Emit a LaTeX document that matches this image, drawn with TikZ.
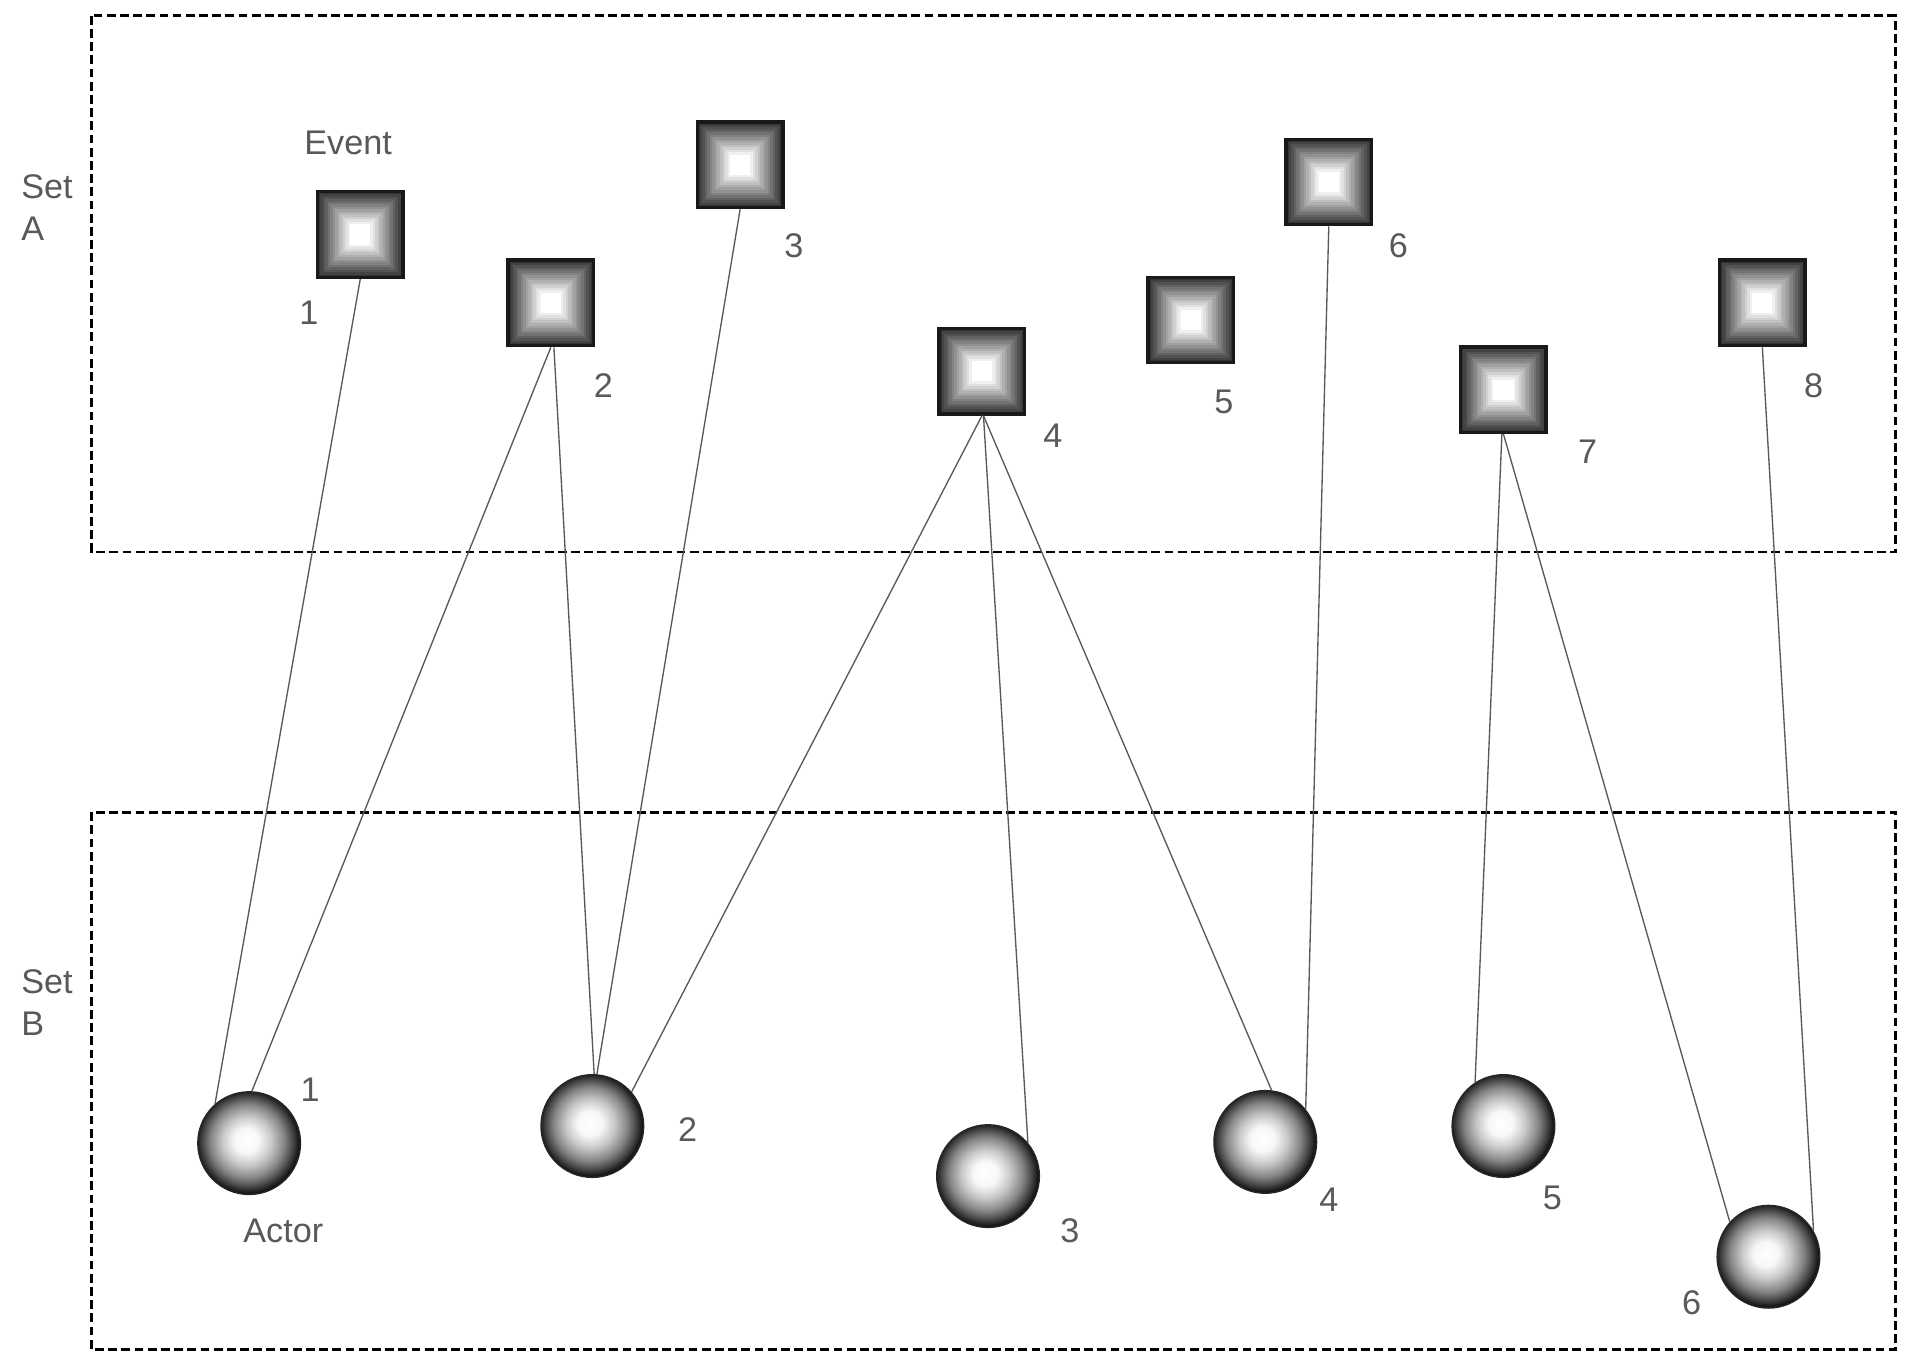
\documentclass[tikz,border=0pt]{standalone}
\usepackage{fontspec}
\setmainfont{Liberation Sans}
\usetikzlibrary{calc}
\pgfdeclareradialshading{actorshade}{\pgfpoint{-1.5bp}{1.5bp}}{color(0bp)=(white); color(6bp)=(white!97!black); color(12bp)=(black!22); color(18bp)=(black!48); color(22bp)=(black!72); color(25bp)=(black!92); color(50bp)=(black!92)}
\tikzset{
  setbox/.style={draw=black, line width=1.2pt, dash pattern=on 3.6pt off 1.8pt},
  link/.style={draw=black!65, line width=0.55pt},
  lbl/.style={font=\fontsize{14}{17}\selectfont, text=black!65, inner sep=0pt},
  eventbox/.style={rectangle, draw=black!90, line width=1.4pt, minimum size=35pt, inner sep=0pt,
    path picture={
      \foreach \i in {0,...,13}{
        \pgfmathsetmacro\evf{\i/34}
        \pgfmathsetmacro\evc{80-\i*80/13}
        \fill[black!\evc] ($(path picture bounding box.south west)!\evf!(path picture bounding box.north east)$) rectangle ($(path picture bounding box.north east)!\evf!(path picture bounding box.south west)$);
      }
    }},
  actor/.style={circle, minimum size=42pt, inner sep=0pt, draw=black!85, line width=0.6pt, shading=actorshade},
}
\begin{document}
\begin{tikzpicture}[x=0.5pt, y=-0.5pt]
\useasboundingbox (0,0) rectangle (1568,1122);
% set boxes
\draw[setbox] (75,13) rectangle (1552,452);
\draw[setbox] (75,665) rectangle (1552,1105);
\node[lbl, align=left, anchor=west] (setA) at (17,170) {Set\\A};
\node[lbl, align=left, anchor=west] (setB) at (17,821) {Set\\B};
% events
\node[eventbox] (e1) at (295,192) {};
\node[eventbox] (e2) at (451,248) {};
\node[eventbox] (e3) at (606,135) {};
\node[eventbox] (e4) at (804,304) {};
\node[eventbox] (e5) at (975,262) {};
\node[eventbox] (e6) at (1088,149) {};
\node[eventbox] (e7) at (1231,319) {};
\node[eventbox] (e8) at (1443,248) {};
% actors
\node[actor] (a1) at (204,936) {};
\node[actor] (a2) at (485,922) {};
\node[actor] (a3) at (809,963) {};
\node[actor] (a4) at (1036,935) {};
\node[actor] (a5) at (1231,922) {};
\node[actor] (a6) at (1448,1029) {};
% labels
\node[lbl] (tEvent) at (285,117) {Event};
\node[lbl] (tActor) at (232,1008) {Actor};
\node[lbl] (le1) at (253,256) {1};
\node[lbl] (le2) at (494,316) {2};
\node[lbl] (le3) at (650,201) {3};
\node[lbl] (le4) at (862,357) {4};
\node[lbl] (le5) at (1002,329) {5};
\node[lbl] (le6) at (1145,201) {6};
\node[lbl] (le7) at (1300,370) {7};
\node[lbl] (le8) at (1485,316) {8};
\node[lbl] (la1) at (254,892) {1};
\node[lbl] (la2) at (563,925) {2};
\node[lbl] (la3) at (876,1008) {3};
\node[lbl] (la4) at (1088,982) {4};
\node[lbl] (la5) at (1271,981) {5};
\node[lbl] (la6) at (1385,1067) {6};
% connectors
\draw[link] (e1.south) -- (a1.131);
\draw[link] (e2.south) -- (a1.87);
\draw[link] (e2.-86) -- (a2.88);
\draw[link] (e3.south) -- (a2.85);
\draw[link] (e4.south) -- (a2.41);
\draw[link] (e4.-88) -- (a3.40);
\draw[link] (e4.-88) -- (a4.83);
\draw[link] (e6.south) -- (a4.39);
\draw[link] (e7.-92) -- (a5.123);
\draw[link] (e7.south) -- (a6.138);
\draw[link] (e8.south) -- (a6.30);
\end{tikzpicture}
\end{document}
